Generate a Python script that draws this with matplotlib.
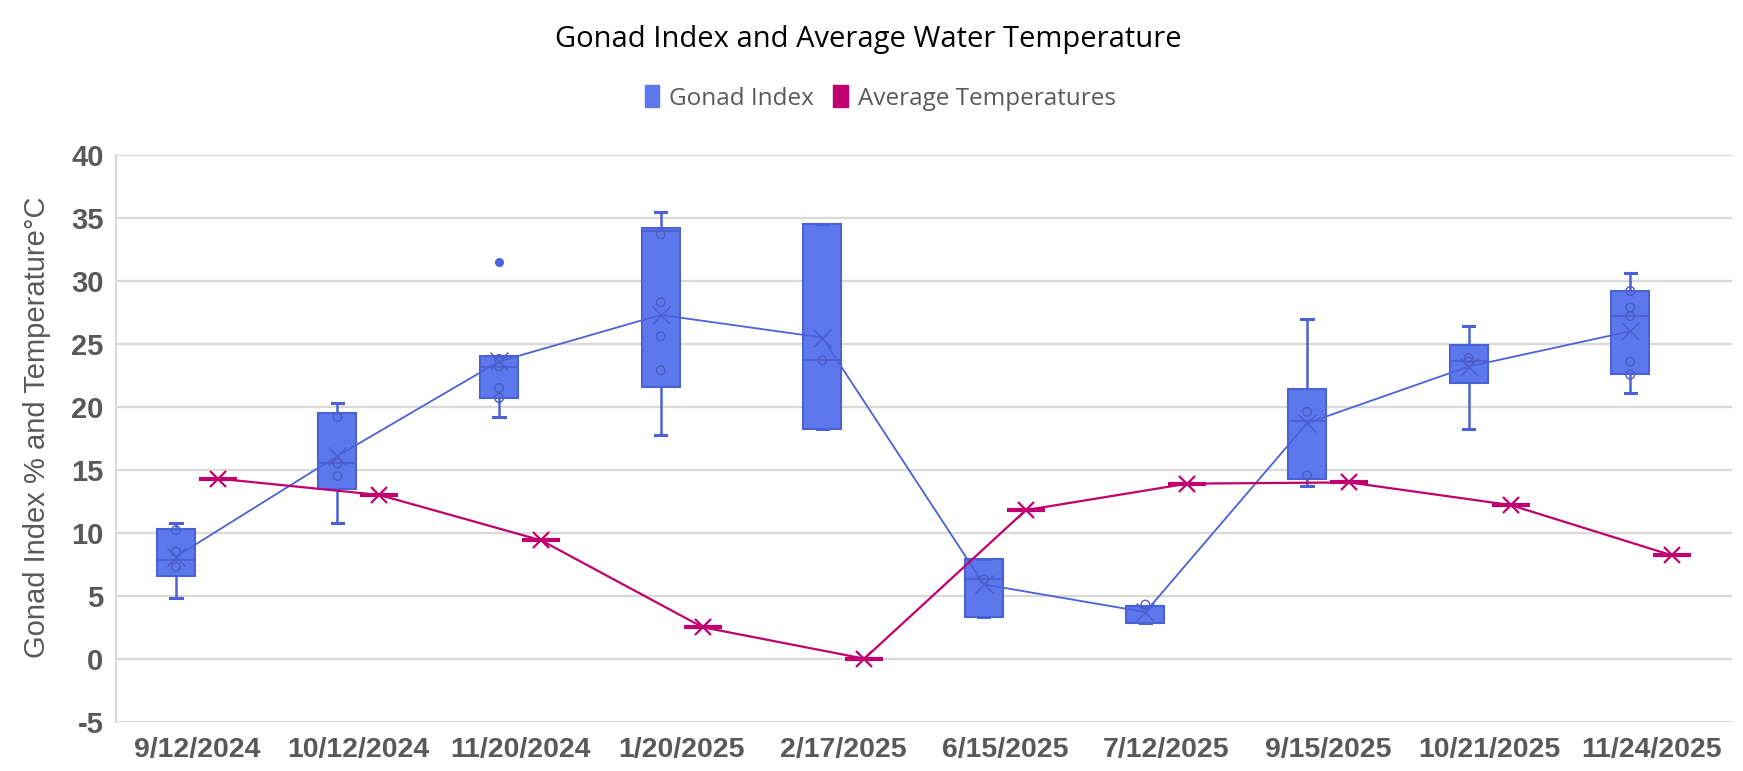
import numpy as np
import matplotlib
matplotlib.use("Agg")
import matplotlib.pyplot as plt
from matplotlib.patches import Patch

plt.rcParams['axes.unicode_minus'] = False

# ---------------------------- data ---------------------------- #
dates = ['9/12/2024', '10/12/2024', '11/20/2024', '1/20/2025', '2/17/2025',
         '6/15/2025', '7/12/2025', '9/15/2025', '10/21/2025', '11/24/2025']

# Gonad index box statistics (%)
gi_whislo = [4.85, 10.8, 19.2, 17.8, 18.2, 3.3, 2.8, 13.7, 18.2, 21.1]
gi_q1 = [6.6, 13.5, 20.7, 21.6, 18.2, 3.3, 2.8, 14.3, 21.9, 22.6]
gi_med = [7.8, 15.5, 23.2, 34.0, 23.7, 6.3, 4.2, 18.9, 23.6, 27.2]
gi_q3 = [10.3, 19.5, 24.0, 34.2, 34.5, 7.9, 4.2, 21.4, 24.9, 29.2]
gi_whishi = [10.8, 20.3, 24.0, 35.5, 34.5, 7.9, 4.2, 27.0, 26.4, 30.6]
gi_mean = [8.1, 16.1, 23.6, 27.3, 25.5, 5.9, 3.7, 18.7, 23.2, 26.0]
gi_inner = [[10.2, 8.5, 7.3], [19.2, 15.5, 14.5], [23.8, 23.2, 21.5, 20.7],
            [33.7, 28.3, 25.6, 22.9], [23.7], [6.3], [4.3], [19.6, 14.55],
            [23.87, 23.6], [29.2, 27.9, 27.2, 23.6, 22.55]]
gi_fliers = [[], [], [31.5], [], [], [], [], [], [], []]

# average water temperature (deg C)
temps = [14.3, 13.0, 9.4, 2.5, 0.0, 11.8, 13.9, 14.0, 12.2, 8.2]

# ---------------------------------- styling -------------------------------------- #
BLUE = '#5d78ec'
BLUE_EDGE = '#4a62d6'
MAG = '#c0006e'
GRAY = '#595959'
GRID = '#d9d9d9'

off = 0.13
bw = 0.235

fig = plt.figure(figsize=(17.43, 7.71), dpi=100)
ax = fig.add_axes([0.0666, 0.064, 0.9271, 0.735])

x = np.arange(len(dates))
gi_pos = x - off
t_pos = x + off

stats = []
for i in range(len(dates)):
    stats.append({'whislo': gi_whislo[i], 'q1': gi_q1[i], 'med': gi_med[i],
                  'q3': gi_q3[i], 'whishi': gi_whishi[i], 'mean': gi_mean[i],
                  'fliers': gi_fliers[i]})

ax.bxp(stats, positions=gi_pos, widths=bw, patch_artist=True, showmeans=True,
       capwidths=0.07,
       boxprops=dict(facecolor=BLUE, edgecolor=BLUE_EDGE, linewidth=1.5),
       medianprops=dict(color=BLUE_EDGE, linewidth=1.5),
       whiskerprops=dict(color=BLUE_EDGE, linewidth=1.8),
       capprops=dict(color=BLUE_EDGE, linewidth=2.2),
       meanprops=dict(marker='x', markersize=13, markeredgecolor='#4a5cc4',
                      markeredgewidth=1.0),
       flierprops=dict(marker='o', markersize=5.5, markerfacecolor=BLUE_EDGE,
                       markeredgecolor=BLUE_EDGE),
       zorder=3)

# inner points
for i in range(len(dates)):
    ax.scatter([gi_pos[i]] * len(gi_inner[i]), gi_inner[i], s=38,
               facecolors='none', edgecolors='#4a5cc4', linewidths=1.0, zorder=4)

# line through the means
ax.plot(gi_pos, gi_mean, color=BLUE_EDGE, linewidth=1.3, zorder=5)

# temperatures
ax.hlines(temps, t_pos - bw / 2, t_pos + bw / 2, color=MAG, linewidth=3, zorder=5)
ax.plot(t_pos, temps, color=MAG, linewidth=1.6, marker='x', markersize=12,
        markeredgewidth=1.6, zorder=6)

# axes
ax.set_xlim(-0.5, len(dates) - 0.5)
ax.set_ylim(-5, 40)
ax.set_yticks(np.arange(-5, 41, 5))
ax.set_xticks(x)
ax.set_xticklabels(dates)
ax.grid(axis='y', color=GRID, linewidth=1.6, zorder=0)
ax.set_axisbelow(True)
for s in ['top', 'right', 'bottom']:
    ax.spines[s].set_visible(False)
ax.spines['left'].set_color(GRID)
ax.spines['left'].set_linewidth(1.6)
ax.tick_params(axis='x', length=0, colors=GRAY, labelsize=20.5, pad=11)
ax.tick_params(axis='y', length=0, colors=GRAY, labelsize=21, pad=9)
for lab in ax.get_xticklabels() + ax.get_yticklabels():
    lab.set_fontweight('bold')
    lab.set_family('Liberation Sans')

ax.set_ylabel('Gonad Index % and Temperature\u00b0C', fontsize=21, color=GRAY,
              family='Liberation Sans')
ax.yaxis.set_label_coords(-0.040, 0.52)

fig.text(0.498, 0.949, 'Gonad Index and Average Water Temperature', ha='center',
         va='center', fontsize=21, color='black', family='Open Sans')

handles = [Patch(facecolor=BLUE, edgecolor=BLUE), Patch(facecolor=MAG, edgecolor=MAG)]
fig.legend(handles, ['Gonad Index', 'Average Temperatures'], loc='center',
           bbox_to_anchor=(0.505, 0.873), ncol=2, frameon=False,
           prop={'family': 'Open Sans', 'size': 17.5}, labelcolor=GRAY,
           handlelength=0.6, handleheight=1.0, handletextpad=0.4, columnspacing=0.8)

fig.savefig('out.png', dpi=100)
